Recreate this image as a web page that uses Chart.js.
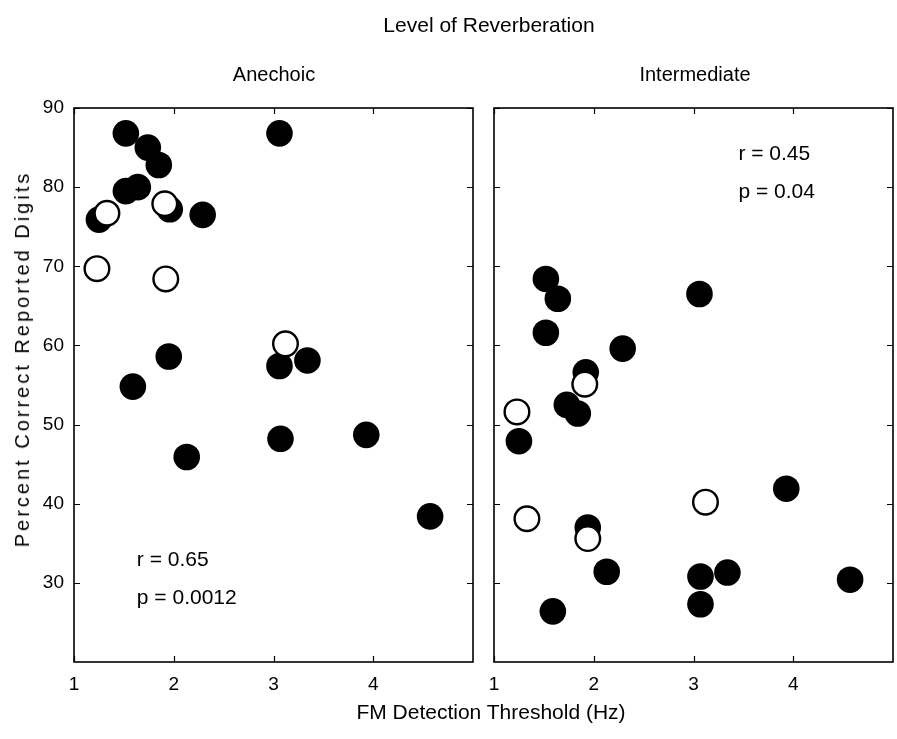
<!DOCTYPE html>
<html><head><meta charset="utf-8">
<script src="https://cdn.jsdelivr.net/npm/chart.js@4.4.0/dist/chart.umd.min.js"></script>
<style>
html,body{margin:0;padding:0;background:#fff;}
#wrap{position:relative;width:897px;height:739px;overflow:hidden;font-family:"Liberation Sans",Arial,Helvetica,sans-serif;color:#000;background:#fff;}
.t{position:absolute;white-space:nowrap;font-size:20px;line-height:1;transform:translate(-50%,-50%);}
#ylab{transform:translate(-50%,-50%) rotate(-90deg);letter-spacing:3px;}
#c1{position:absolute;left:0;top:0;width:485px;height:739px;}
#c2{position:absolute;left:485px;top:0;width:412px;height:739px;}
</style></head><body>
<div id="wrap">
<canvas id="c1" width="485" height="739"></canvas>
<canvas id="c2" width="412" height="739"></canvas>
<div class="t" style="left:489px;top:24px;font-size:21px">Level of Reverberation</div>
<div class="t" style="left:274px;top:74px">Anechoic</div>
<div class="t" style="left:695px;top:74px">Intermediate</div>
<div class="t" style="left:491px;top:711px;font-size:21px">FM Detection Threshold (Hz)</div>
<div class="t" id="ylab" style="left:22px;top:359px">Percent Correct Reported Digits</div>
</div>
<script>
// ---- data ----
const xTicks = [1, 2, 3, 4];
const yTicks = [30, 40, 50, 60, 70, 80, 90];

const anechoicFilledX = [1.52, 1.74, 1.85, 1.52, 1.64, 1.25, 1.96, 2.29, 3.06, 1.95, 3.06, 1.59, 3.34, 2.13, 3.07, 3.93, 4.57];
const anechoicFilledY = [86.8, 85.0, 82.8, 79.5, 80.0, 75.9, 77.2, 76.5, 86.8, 58.6, 57.4, 54.8, 58.1, 45.9, 48.2, 48.7, 38.4];
const anechoicOpenX = [1.33, 1.91, 1.23, 1.92, 3.12];
const anechoicOpenY = [76.7, 77.9, 69.7, 68.4, 60.2];

const interFilledX = [1.52, 1.64, 1.52, 2.29, 1.92, 3.06, 1.73, 1.84, 1.25, 1.94, 2.13, 1.59, 3.93, 3.07, 3.34, 3.07, 4.57];
const interFilledY = [68.4, 65.9, 61.6, 59.6, 56.6, 66.5, 52.5, 51.4, 47.9, 37.0, 31.4, 26.4, 41.9, 30.8, 31.3, 27.3, 30.4];
const interOpenX = [1.91, 1.23, 1.33, 1.94, 3.12];
const interOpenY = [55.1, 51.6, 38.1, 35.6, 40.2];

const anechoicStats = ["r = 0.65", "p = 0.0012"];
const interStats = ["r = 0.45", "p = 0.04"];

// ---- helpers ----
const FONT = '"Liberation Sans", Arial, Helvetica, sans-serif';
function pts(xs, ys) { return xs.map((x, i) => ({ x: x, y: ys[i] })); }

const framePlugin = {
  id: 'frame',
  afterDraw(chart, args, opts) {
    const ctx = chart.ctx, a = chart.chartArea;
    const xs = chart.scales.x, ys = chart.scales.y;
    ctx.save();
    ctx.strokeStyle = '#000';
    ctx.lineWidth = 1.6;
    ctx.strokeRect(a.left, a.top, a.right - a.left, a.bottom - a.top);
    const L = 6;
    ctx.beginPath();
    xTicks.forEach(v => {
      const px = Math.round(xs.getPixelForValue(v)) + 0.5;
      ctx.moveTo(px, a.bottom); ctx.lineTo(px, a.bottom - L);
      ctx.moveTo(px, a.top); ctx.lineTo(px, a.top + L);
    });
    yTicks.forEach(v => {
      const py = Math.round(ys.getPixelForValue(v)) + 0.5;
      ctx.moveTo(a.left, py); ctx.lineTo(a.left + L, py);
      ctx.moveTo(a.right, py); ctx.lineTo(a.right - L, py);
    });
    ctx.lineWidth = 1.2;
    ctx.stroke();
    if (opts && opts.text) {
      ctx.fillStyle = '#000';
      ctx.font = '21px ' + FONT;
      ctx.textAlign = 'left';
      ctx.textBaseline = 'middle';
      opts.text.forEach((t, i) => {
        ctx.fillText(t, xs.getPixelForValue(opts.x), ys.getPixelForValue(opts.y[i]));
      });
    }
    ctx.restore();
  }
};

function makeChart(id, filledX, filledY, openX, openY, showY, pad, statCfg) {
  return new Chart(document.getElementById(id), {
    type: 'scatter',
    data: {
      datasets: [
        { data: pts(filledX, filledY), order: 2, pointRadius: 13.3, pointHoverRadius: 13.3,
          backgroundColor: '#000', borderColor: '#000', borderWidth: 0 },
        { data: pts(openX, openY), order: 1, pointRadius: 12.3, pointHoverRadius: 12.3,
          backgroundColor: '#fff', borderColor: '#000', borderWidth: 2.4 }
      ]
    },
    options: {
      responsive: false, animation: false, events: [],
      layout: { padding: pad, autoPadding: false },
      plugins: { legend: { display: false }, tooltip: { enabled: false }, frame: statCfg },
      scales: {
        x: {
          type: 'linear', min: 1, max: 5,
          afterBuildTicks: s => { s.ticks = xTicks.map(v => ({ value: v })); },
          afterFit: s => { s.height = 40; s.paddingLeft = 0; s.paddingRight = 0; },
          grid: { display: false, drawTicks: false }, border: { display: false },
          ticks: { color: '#000', padding: 11, maxRotation: 0, autoSkip: false, font: { size: 19, family: FONT } }
        },
        y: {
          type: 'linear', min: 20, max: 90,
          display: showY ? true : 'auto',
          afterBuildTicks: s => { s.ticks = yTicks.map(v => ({ value: v })); },
          afterFit: s => { s.width = showY ? 74 : 0; s.paddingTop = 0; s.paddingBottom = 0; },
          grid: { display: false, drawTicks: false }, border: { display: false },
          ticks: { display: showY, color: '#000', padding: 10, autoSkip: false, font: { size: 19, family: FONT } }
        }
      }
    },
    plugins: [framePlugin]
  });
}

makeChart('c1', anechoicFilledX, anechoicFilledY, anechoicOpenX, anechoicOpenY, true,
  { left: 0, top: 108, right: 12, bottom: 37 },
  { text: anechoicStats, x: 1.63, y: [32.8, 28.1] });
makeChart('c2', interFilledX, interFilledY, interOpenX, interOpenY, false,
  { left: 9, top: 108, right: 4, bottom: 37 },
  { text: interStats, x: 3.45, y: [84.1, 79.4] });
</script>
</body></html>
